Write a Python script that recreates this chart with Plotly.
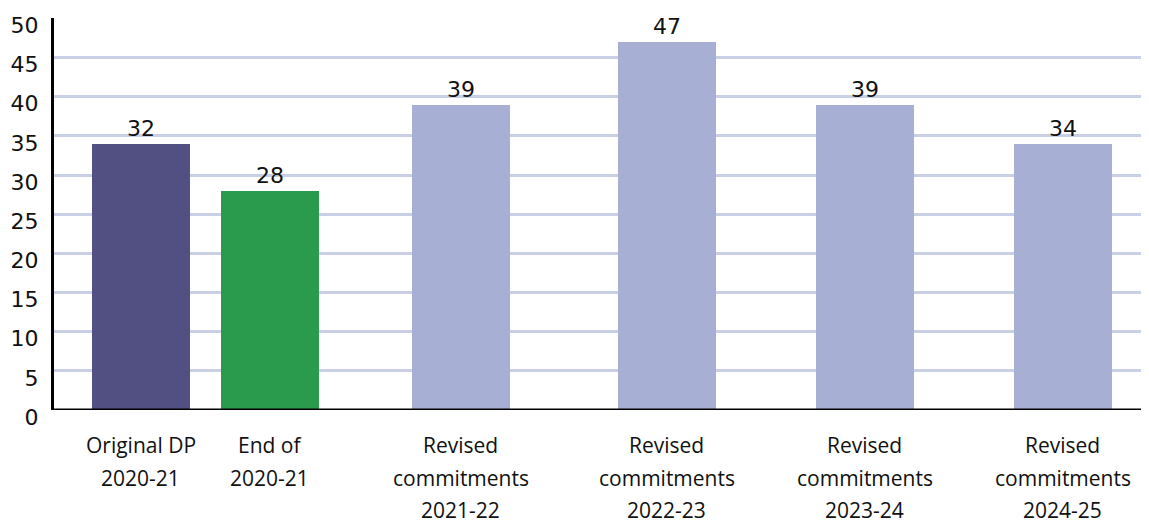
import plotly.graph_objects as go

categories = ["Original DP<br>2020-21", "End of<br>2020-21",
              "Revised<br>commitments<br>2021-22", "Revised<br>commitments<br>2022-23",
              "Revised<br>commitments<br>2023-24", "Revised<br>commitments<br>2024-25"]
values = [34, 28, 39, 47, 39, 34]
value_labels = ["32", "28", "39", "47", "39", "34"]
x_positions = [0, 1.29, 3.2, 5.26, 7.24, 9.22]
colors = ["#524f83", "#2a9a4c", "#a7b0d4", "#a7b0d4", "#a7b0d4", "#a7b0d4"]
y_ticks = list(range(0, 51, 5))

fig = go.Figure()
fig.add_trace(go.Bar(
    x=x_positions, y=values, width=0.98,
    marker=dict(color=colors, line=dict(width=0)),
    text=value_labels, textposition="outside", cliponaxis=False,
    textfont=dict(family="DejaVu Sans", size=22, color="#111111"),
))

annotations = []
for xp, cat in zip(x_positions, categories):
    for i, line in enumerate(cat.split("<br>")):
        annotations.append(dict(
            x=xp, y=0, xref="x", yref="y", text=line, showarrow=False,
            yanchor="middle", xanchor="center", yshift=-35 - 32.5 * i,
            font=dict(family="Open Sans", size=21, color="#111111"),
        ))

fig.update_layout(
    width=1141, height=514,
    margin=dict(l=46, r=0, t=10, b=112),
    plot_bgcolor="white", paper_bgcolor="white",
    showlegend=False, bargap=0,
    annotations=annotations,
    xaxis=dict(range=[-0.865, 10.085], showticklabels=False, showgrid=False,
               zeroline=False, showline=False, ticks="", automargin=False),
    yaxis=dict(range=[0, 50.05], tickvals=y_ticks, showgrid=True,
               gridcolor="#c9d0e6", gridwidth=2.5, zeroline=False,
               showline=True, linecolor="black", linewidth=3,
               ticks="", ticklabelstandoff=8, ticklabelshift=7,
               ticklabeloverflow="allow", automargin=False,
               tickfont=dict(family="DejaVu Sans", size=22, color="#111111")),
    shapes=[dict(type="line", xref="paper", yref="y", x0=0, x1=1, y0=0, y1=0,
                 line=dict(color="black", width=3))],
)

fig.write_html("out.html")
